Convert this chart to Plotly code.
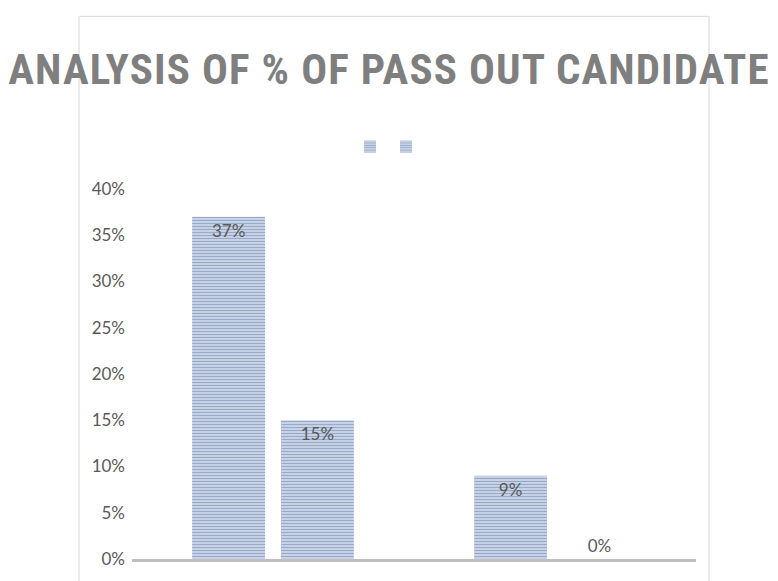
import plotly.graph_objects as go

categories = ["Group 1", "Group 2"]
series_a = [0.37, 0.09]
series_b = [0.15, 0.0]
tick_vals = [0, 0.05, 0.10, 0.15, 0.20, 0.25, 0.30, 0.35, 0.40]
tick_text = ["0%", "5%", "10%", "15%", "20%", "25%", "30%", "35%", "40%"]

W, H = 778, 581
L, R, T, B = 132, 82, 189, 17
pw, ph = W - L - R, H - T - B

pattern = dict(shape="-", fgcolor="#2F5597", bgcolor="#FFFFFF", size=3, solidity=0.7)
label_font = dict(family="Lato, sans-serif", size=17, color="#595959")

fig = go.Figure()
legends = ["legend", "legend2"]
for i, (name, vals) in enumerate([(" ", series_a), ("  ", series_b)]):
    fig.add_trace(go.Bar(
        x=categories, y=vals, name=name, legend=legends[i],
        marker=dict(color="#FFFFFF", line=dict(width=0), pattern=pattern),
        text=[f"{v:.0%}" for v in vals],
        textposition=["inside" if v > 0 else "outside" for v in vals],
        insidetextanchor="end",
        textfont=label_font,
        cliponaxis=False,
    ))

leg_common = dict(xanchor="left", yanchor="middle", y=(H - B - 146) / ph,
                  font=dict(size=12), bgcolor="rgba(0,0,0,0)")
fig.update_layout(
    width=W, height=H,
    margin=dict(l=L, r=R, t=T, b=B),
    paper_bgcolor="white", plot_bgcolor="white",
    barmode="group", bargap=0.37, bargroupgap=0.18,
    showlegend=True,
    legend=dict(x=(370 - 20 - L) / pw, **leg_common),
    legend2=dict(x=(406 - 20 - L) / pw, **leg_common),
    title=dict(
        text="<span style='letter-spacing:1.1px'>ANALYSIS OF % OF PASS OUT CANDIDATE</span>",
        x=0.5, xanchor="center", xref="container", y=1 - 69 / H, yanchor="middle",
        font=dict(family="Roboto Condensed, Roboto, sans-serif", size=43,
                  color="#7F7F7F", weight="bold"),
    ),
)
fig.update_xaxes(showticklabels=False, ticks="", showgrid=False, showline=True,
                 linecolor="#BFBFBF", linewidth=3, zeroline=False)
fig.update_yaxes(range=[0, 0.4], tickvals=tick_vals, ticktext=tick_text, showgrid=False,
                 zeroline=False, showline=False, ticks="", ticklabelstandoff=6,
                 tickfont=label_font)

# chart-area border
fig.add_shape(type="rect", xref="paper", yref="paper",
              x0=(79 - L) / pw, x1=(709 - L) / pw,
              y0=-(B + 10) / ph, y1=(H - B - 14) / ph,
              line=dict(color="#D9D9D9", width=1), fillcolor="rgba(0,0,0,0)", layer="below")

fig.write_html("out.html", config={"displayModeBar": False},
               post_script="document.body.style.margin='0';")
